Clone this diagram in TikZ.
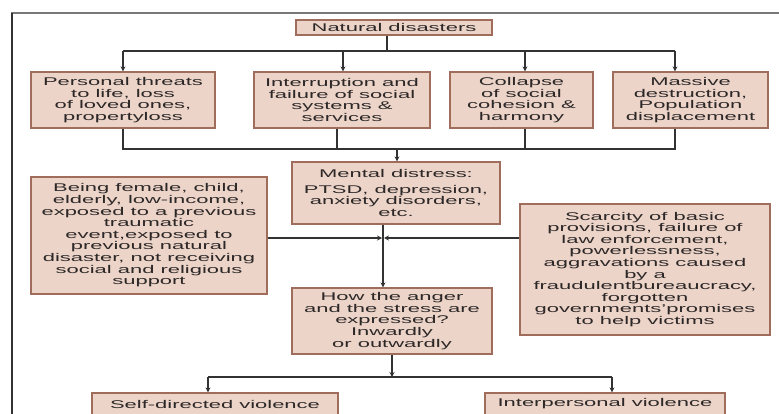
\documentclass[tikz,border=0pt]{standalone}
\usepackage{fontspec}
\setmainfont{Liberation Sans}[FakeStretch=1.96]
\usetikzlibrary{arrows.meta}
\definecolor{boxfill}{RGB}{236,212,200}
\definecolor{boxline}{RGB}{160,108,92}
\definecolor{txt}{RGB}{45,40,40}
\definecolor{ln}{RGB}{50,50,50}
\definecolor{frameg}{RGB}{120,120,120}
\tikzset{
  box/.style={draw=boxline, fill=boxfill, line width=1.2pt, align=center, inner sep=0pt,
    text=txt, font=\fontsize{11.2}{11.6}\selectfont},
  conn/.style={draw=ln, line width=1.2pt},
  arr/.style={conn, -{Stealth[length=5pt,width=5pt]}},
}
\begin{document}
\begin{tikzpicture}[x=1pt,y=-1pt]
\useasboundingbox (0,0) rectangle (779,414);
\clip (0,0) rectangle (779,414);
% frame
\draw[frameg, line width=1.2pt] (12,414) -- (12,13) -- (780,13);
\draw[ln, line width=1.4pt] (12,13) -- (12,414);
% nodes
\node[box, minimum width=196pt, minimum height=15pt] (nd) at (394,27.5) {Natural disasters};
\node[box, minimum width=184pt, minimum height=56pt] (b1) at (123,100) {Personal threats\\to life, loss\\of loved ones,\\propertyloss};
\node[box, minimum width=176pt, minimum height=56pt] (b2) at (342,100) {Interruption and\\failure of social\\systems \&\\services};
\node[box, minimum width=143pt, minimum height=56pt] (b3) at (521.5,100) {Collapse\\of social\\cohesion \&\\harmony};
\node[box, minimum width=155pt, minimum height=56pt] (b4) at (690.5,100) {Massive\\destruction,\\Population\\displacement};
\node[box, minimum width=208pt, minimum height=62pt] (md) at (396,193) {Mental distress:\\[4pt]PTSD, depression,\\anxiety disorders,\\etc.};
\node[box, minimum width=236pt, minimum height=117pt] (lb) at (149,235.5) {Being female, child,\\elderly, low-income,\\exposed to a previous\\traumatic\\event,exposed to\\previous natural\\disaster, not receiving\\social and religious\\support};
\node[box, minimum width=250pt, minimum height=131pt] (rb) at (645,269.5) {Scarcity of basic\\provisions, failure of\\law enforcement,\\powerlessness,\\aggravations caused\\by a\\fraudulentbureaucracy,\\forgotten\\governments'promises\\to help victims};
\node[box, minimum width=200pt, minimum height=66pt] (how) at (392,321) {How the anger\\and the stress are\\expressed?\\Inwardly\\or outwardly};
\node[box, minimum width=246pt, minimum height=22pt] (sd) at (215,404) {Self-directed violence};
\node[box, minimum width=240pt, minimum height=22pt] (ip) at (605,404) {Interpersonal violence};
% junction coordinates
\coordinate (t0) at (387,51);
\coordinate (t1) at (123,51);
\coordinate (t2) at (343,51);
\coordinate (t3) at (525,51);
\coordinate (t4) at (675,51);
\coordinate (m1) at (123,149);
\coordinate (m2) at (337,149);
\coordinate (m3) at (525,149);
\coordinate (m4) at (675,149);
\coordinate (m0) at (397,149);
\coordinate (v) at (383,238);
\coordinate (w0) at (392,377);
\coordinate (w1) at (208,377);
\coordinate (w2) at (612,377);
% connectors
\draw[conn] (t0 |- nd.south) -- (t0);
\draw[conn] (t1) -- (t4);
\draw[arr] (t1) -- (t1 |- b1.north);
\draw[arr] (t2) -- (t2 |- b2.north);
\draw[arr] (t3) -- (t3 |- b3.north);
\draw[arr] (t4) -- (t4 |- b4.north);
\draw[conn] (m1 |- b1.south) -- (m1) -- (m4) -- (m4 |- b4.south);
\draw[conn] (m2 |- b2.south) -- (m2);
\draw[conn] (m3 |- b3.south) -- (m3);
\draw[arr] (m0) -- (m0 |- md.north);
\draw[arr] (v |- md.south) -- (v |- how.north);
\draw[arr] (lb.east |- v) -- ([xshift=-1pt]v);
\draw[arr] (rb.west |- v) -- ([xshift=1pt]v);
\draw[arr] (w0 |- how.south) -- (w0);
\draw[conn] (w1) -- (w2);
\draw[arr] (w1) -- (w1 |- sd.north);
\draw[arr] (w2) -- (w2 |- ip.north);
\end{tikzpicture}
\end{document}
